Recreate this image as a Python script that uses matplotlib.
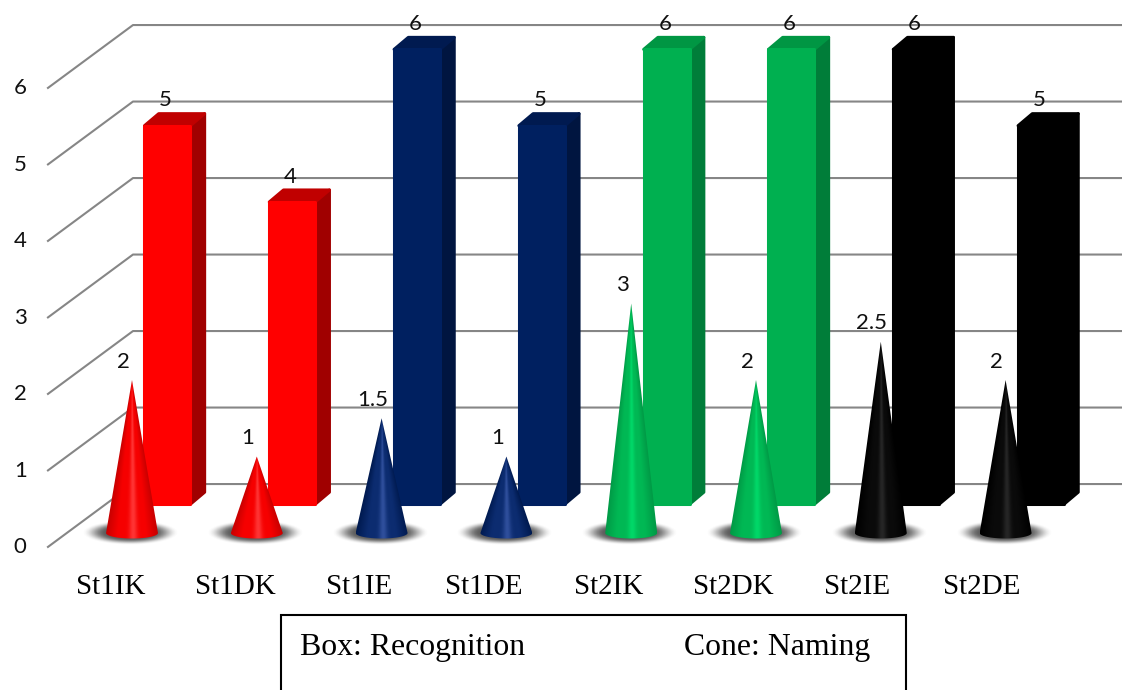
import matplotlib
matplotlib.use('Agg')
import matplotlib.pyplot as plt
import numpy as np
from matplotlib.colors import to_rgb
from matplotlib.patches import Polygon, Rectangle

categories = ['St1IK', 'St1DK', 'St1IE', 'St1DE', 'St2IK', 'St2DK', 'St2IE', 'St2DE']
box_values = [5, 4, 6, 5, 6, 6, 6, 5]
cone_values = [2, 1, 1.5, 1, 3, 2, 2.5, 2]
y_ticks = [0, 1, 2, 3, 4, 5, 6]

# front, side, top of the box, then cone edge, middle, highlight
red = ['#ff0000', '#a00000', '#c00000', '#c80000', '#f60000', '#ff3434']
navy = ['#002060', '#001540', '#001a50', '#001a50', '#0c2c70', '#2f4f9c']
green = ['#00b050', '#007d39', '#009643', '#009a46', '#00b854', '#00d868']
black = ['#000000', '#000000', '#000000', '#000000', '#0a0a0a', '#262626']
palette = [red, red, navy, navy, green, green, black, black]

W, H = 1122, 690
X0, XSTEP = 132.0, 124.8
Y0, YSTEP = 533.0, 76.5


def cone_image(v, cols, radius):
    # shading follows the cone surface, so it narrows up to the tip
    yy, xx = np.mgrid[v:-0.1:400j, -1:1:200j]
    half = np.maximum(v - yy, 0.001) / v
    t = np.clip(xx / half, -1, 1)
    edge, mid, light = [np.array(to_rgb(c)) for c in cols[3:]]
    mix = np.minimum(1, (1 - np.abs(t)) * 2.2)[..., None]
    img = edge + (mid - edge) * mix
    glow = np.exp(-((t - 0.05) / 0.16) ** 2)[..., None]
    return img + (light - img) * glow


def main():
    fig = plt.figure(figsize=(W / 100, H / 100), dpi=100)
    ax = fig.add_axes([0, 0, 1, 1])
    ax.axis('off')
    xlim = (-X0 / XSTEP, (W - X0) / XSTEP)
    ylim = ((Y0 - H) / YSTEP, Y0 / YSTEP)

    # walls
    back_x, front_x = 0.008, -0.68
    back_dy, front_dy = 0.64, -0.19
    for v in y_ticks:
        ax.plot([front_x, back_x, xlim[1]], [v + front_dy, v + back_dy, v + back_dy],
                color='#868686', lw=1.5, solid_joinstyle='round', solid_capstyle='butt', zorder=1)
        ax.text(-0.896, v - 0.185, str(v), family='Lato', fontsize=16,
                ha='center', va='center', color='#111111', zorder=8)

    box_off, box_w = 0.088, 0.392
    box_floor = 0.357
    dx, dy = 0.114, 0.157
    ix, iy = 1.5 / XSTEP, 1.5 / YSTEP

    for i, (v, cols) in enumerate(zip(box_values, palette)):
        x0 = i + box_off + ix
        x1 = i + box_off + box_w - ix
        low = box_floor + iy
        top = v * 76.3 / YSTEP + box_floor - iy
        style = dict(lw=2.2, joinstyle='round', zorder=3)
        ax.add_patch(Polygon([(x1, low), (x1 + dx, low + dy), (x1 + dx, top + dy), (x1, top)],
                             fc=cols[1], ec=cols[1], **style))
        ax.add_patch(Polygon([(x0, top), (x1, top), (x1 + dx, top + dy), (x0 + dx, top + dy)],
                             fc=cols[2], ec=cols[2], **style))
        ax.add_patch(Polygon([(x0, low), (x1, low), (x1, top), (x0, top)],
                             fc=cols[0], ec=cols[0], **style))
        ax.text(i + 0.27, v + 0.66, str(v), family='Lato', fontsize=16,
                ha='center', va='center', color='#111111', zorder=8)

    # blurred floor shadows
    yy, xx = np.mgrid[-1:1:80j, -1:1:160j]
    r = np.sqrt(xx ** 2 + yy ** 2)
    fade = np.clip((1 - r) / 0.5, 0, 1)
    shadow = np.zeros(r.shape + (4,))
    shadow[..., :3] = 0.33
    shadow[..., 3] = 0.95 * fade * fade * (3 - 2 * fade)
    for i in range(len(categories)):
        ax.imshow(shadow, extent=(i - 0.4, i + 0.37, -0.155, 0.165), aspect='auto',
                  interpolation='bilinear', zorder=4)

    radius, squash = 0.208, 0.072
    theta = np.linspace(np.pi, 0, 61)
    for i, (v, cols) in enumerate(zip(cone_values, palette)):
        im = ax.imshow(cone_image(v, cols, radius), extent=(i - radius, i + radius, -0.1, v),
                       aspect='auto', interpolation='bilinear', zorder=5)
        outline = [(i, v)] + list(zip(i + radius * np.cos(theta), -squash * np.sin(theta)))
        im.set_clip_path(Polygon(outline, transform=ax.transData))
        ax.text(i - 0.072, v + 0.24, '{:g}'.format(v), family='Lato', fontsize=16,
                ha='center', va='center', color='#111111', zorder=8)

    for i, name in enumerate(categories):
        ax.text(i * 0.9975 - 0.172, -0.705, name, family='Liberation Serif', fontsize=21,
                ha='center', va='center', color='black', zorder=8)

    ax.set_xlim(xlim)
    ax.set_ylim(ylim)

    # caption box runs off the bottom edge
    fig.add_artist(Rectangle((280.5 / W, -0.05), 625.5 / W, 0.05 + (H - 614.5) / H,
                             transform=fig.transFigure, fc='white', ec='black', lw=1.5, zorder=6))
    fig.text(300 / W, 1 - 647 / H, 'Box: Recognition', family='Liberation Serif', fontsize=22.9,
             ha='left', va='center', zorder=8)
    fig.text(684 / W, 1 - 647 / H, 'Cone: Naming', family='Liberation Serif', fontsize=22.9,
             ha='left', va='center', zorder=8)

    fig.savefig('out.png', dpi=100, facecolor='white')


if __name__ == "__main__":
    main()
